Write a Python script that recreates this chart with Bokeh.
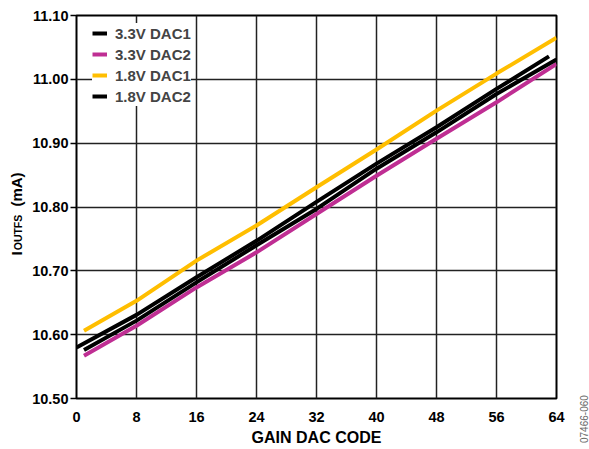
import math
from bokeh.plotting import figure
from bokeh.layouts import row
from bokeh.models import Range1d, FixedTicker, Legend, LegendItem, NumeralTickFormatter, Div
from bokeh.core.properties import value
from bokeh.embed import file_html
from bokeh.resources import INLINE

# ---- data ----
codes_a = [0, 8, 16, 24, 32, 40, 48, 56, 63]
codes_b = [1, 8, 16, 24, 32, 40, 48, 56, 64]
dac1_33v = [10.580, 10.631, 10.690, 10.747, 10.808, 10.868, 10.925, 10.985, 11.036]
dac2_33v = [10.567, 10.614, 10.674, 10.729, 10.789, 10.849, 10.907, 10.964, 11.024]
dac1_18v = [10.606, 10.653, 10.716, 10.771, 10.831, 10.890, 10.951, 11.009, 11.065]
dac2_18v = [10.576, 10.622, 10.682, 10.740, 10.797, 10.860, 10.917, 10.977, 11.031]

x_ticks = [0, 8, 16, 24, 32, 40, 48, 56, 64]
y_ticks = [10.50, 10.60, 10.70, 10.80, 10.90, 11.00, 11.10]

FONT = "Liberation Sans"
H = 449
FRAME_TOP = 15
FRAME_BOTTOM = 398
LW_STRIP = 28
RW_STRIP = 19
MAIN_W = 589 - LW_STRIP - RW_STRIP

# ---- left strip: y-axis title with subscript (frame aligned with the main frame) ----
L = figure(width=LW_STRIP, height=H, output_backend="svg", toolbar_location=None,
           x_range=Range1d(0, LW_STRIP), y_range=Range1d(H - FRAME_BOTTOM, H - FRAME_TOP),
           min_border=0, min_border_left=0, min_border_right=0,
           min_border_top=FRAME_TOP, min_border_bottom=H - FRAME_BOTTOM)
L.axis.visible = False
L.grid.visible = False
L.outline_line_color = None
L.background_fill_color = "white"
L.border_fill_color = "white"

ang = math.pi / 2
L.text(x=[15.6], y=[H - 253], text=["I"], angle=ang, text_align="center",
       text_baseline="middle", text_font=value(FONT), text_font_style="bold",
       text_font_size="15px", text_color="black")
L.text(x=[17.4], y=[H - 232], text=["OUTFS"], angle=ang, text_align="center",
       text_baseline="middle", text_font=value(FONT), text_font_style="bold",
       text_font_size="10.5px", text_color="black")
L.text(x=[15.6], y=[H - 189], text=["(mA)"], angle=ang, text_align="center",
       text_baseline="middle", text_font=value(FONT), text_font_style="bold",
       text_font_size="15px", text_color="black")

# ---- right strip: figure id ----
R = Div(width=RW_STRIP, height=H, styles={"position": "relative", "overflow": "visible"},
        text=("<div style=\"position:absolute; left:5px; top:438px; "
              "transform:rotate(-90deg); transform-origin:0 0; "
              "font-family:'Liberation Sans', Arial, sans-serif; font-size:10px; "
              "line-height:10px; color:#666666; white-space:nowrap;\">07466-060</div>"))

# ---- main chart ----
p = figure(width=MAIN_W, height=H, output_backend="svg", toolbar_location=None,
           x_range=Range1d(0, 64), y_range=Range1d(10.50, 11.10),
           min_border_left=76 - LW_STRIP, min_border_right=LW_STRIP + MAIN_W - 556,
           min_border_top=FRAME_TOP, min_border_bottom=H - FRAME_BOTTOM)
p.background_fill_color = "white"
p.border_fill_color = "white"
p.outline_line_color = "black"
p.outline_line_width = 2

for ax in (p.xaxis[0], p.yaxis[0]):
    ax.axis_line_color = None
    ax.major_label_text_font = FONT
    ax.major_label_text_font_style = "bold"
    ax.major_label_text_font_size = "14.5px"
    ax.major_label_text_color = "black"
    ax.minor_tick_line_color = None
    ax.major_tick_in = 0

p.xaxis.ticker = FixedTicker(ticks=x_ticks)
p.yaxis.ticker = FixedTicker(ticks=y_ticks)
p.yaxis.formatter = NumeralTickFormatter(format="0.00")
p.xaxis.major_tick_out = 0
p.xaxis.major_label_standoff = 13
p.xaxis.axis_label = "GAIN DAC CODE"
p.xaxis.axis_label_text_font = FONT
p.xaxis.axis_label_text_font_style = "bold"
p.xaxis.axis_label_text_font_size = "16px"
p.xaxis.axis_label_text_color = "black"
p.xaxis.axis_label_standoff = 4
p.yaxis.major_tick_out = 6
p.yaxis.major_tick_line_color = "black"
p.yaxis.major_tick_line_width = 1.5
p.yaxis.major_label_standoff = 2

p.xgrid.ticker = FixedTicker(ticks=x_ticks)
p.ygrid.ticker = FixedTicker(ticks=y_ticks)
for g in (p.xgrid[0], p.ygrid[0]):
    g.grid_line_color = "#222222"
    g.grid_line_width = 1.5

YEL = "#FFBE00"
MAG = "#BF2E93"
LW = 4

r_y = p.line(codes_b, dac1_18v, line_color=YEL, line_width=LW)
r_m = p.line(codes_b, dac2_33v, line_color=MAG, line_width=LW)
r_b2 = p.line(codes_b, dac2_18v, line_color="black", line_width=LW)
r_b1 = p.line(codes_a, dac1_33v, line_color="black", line_width=LW)

legend = Legend(items=[
    LegendItem(label="3.3V DAC1", renderers=[r_b1]),
    LegendItem(label="3.3V DAC2", renderers=[r_m]),
    LegendItem(label="1.8V DAC1", renderers=[r_y]),
    LegendItem(label="1.8V DAC2", renderers=[r_b2]),
], location=(16, 292), margin=0, padding=8, spacing=1,
    glyph_width=15, glyph_height=20, label_height=20, label_standoff=8,
    label_text_font=FONT, label_text_font_style="bold", label_text_font_size="15px",
    background_fill_color="white", background_fill_alpha=1.0, border_line_color=None)
p.add_layout(legend)

layout = row(L, p, R, spacing=0)
open("out.html", "w").write(file_html(layout, INLINE))
